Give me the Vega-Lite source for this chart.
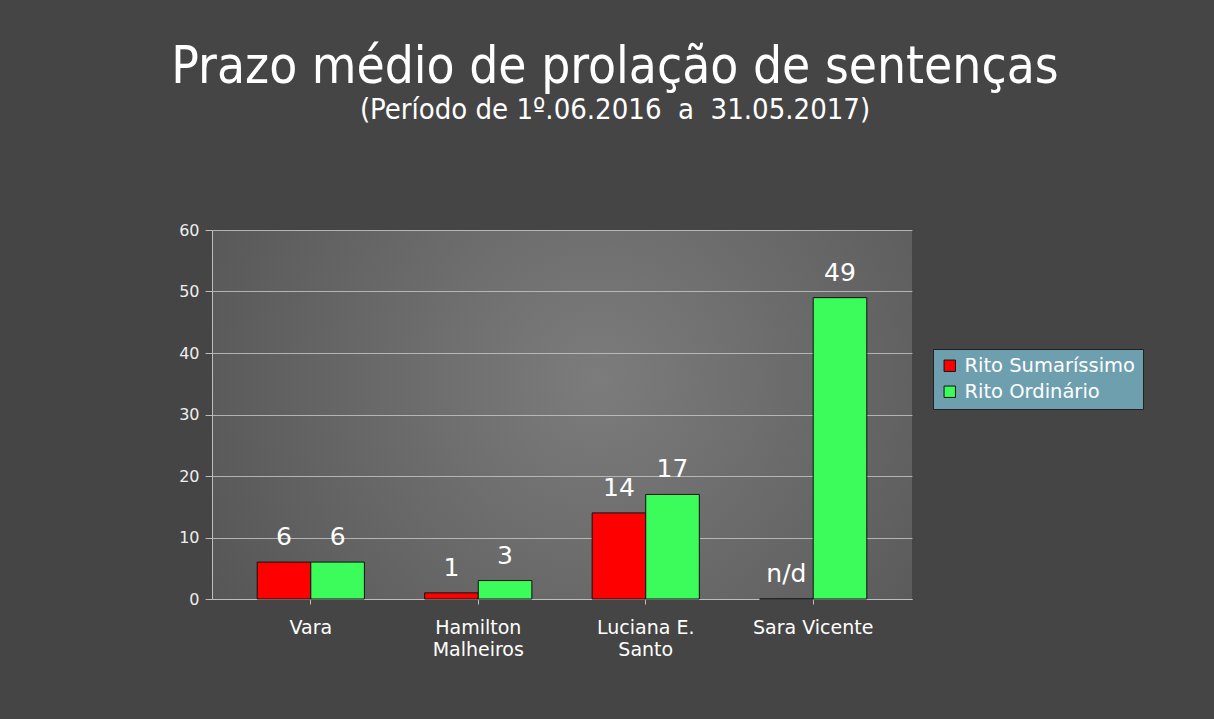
{
  "$schema": "https://vega.github.io/schema/vega-lite/v6.json",
  "autosize": {"type": "none"},
  "width": 700,
  "height": 369,
  "padding": {"left": 212, "top": 230, "right": 302, "bottom": 120},
  "background": "#454545",
  "config": {
    "view": {"stroke": null, "fill": {"gradient": "radial", "x1": 0.55, "y1": 0.45, "r1": 0, "x2": 0.55, "y2": 0.45, "r2": 0.8, "stops": [{"offset": 0, "color": "#7c7c7c"}, {"offset": 1, "color": "#4c4c4c"}]}},
    "font": "DejaVu Sans"
  },
  "title": {
    "text": "Prazo médio de prolação de sentenças",
    "subtitle": "(Período de 1º.06.2016 \u00a0a \u00a031.05.2017)",
    "anchor": "middle",
    "dx": 53,
    "offset": 96,
    "font": "Liberation Sans Narrow, DejaVu Sans Condensed, sans-serif",
    "fontSize": 51,
    "fontWeight": "normal",
    "color": "#ffffff",
    "subtitleFont": "Liberation Sans Narrow, DejaVu Sans Condensed, sans-serif",
    "subtitleFontSize": 29,
    "subtitleColor": "#ffffff",
    "subtitlePadding": 2
  },
  "data": {
    "values": [
      {"juiz": "Vara", "rito": "Rito Sumaríssimo", "valor": 6, "rotulo": "6"},
      {"juiz": "Vara", "rito": "Rito Ordinário", "valor": 6, "rotulo": "6"},
      {"juiz": "Hamilton Malheiros", "rito": "Rito Sumaríssimo", "valor": 1, "rotulo": "1"},
      {"juiz": "Hamilton Malheiros", "rito": "Rito Ordinário", "valor": 3, "rotulo": "3"},
      {"juiz": "Luciana E. Santo", "rito": "Rito Sumaríssimo", "valor": 14, "rotulo": "14"},
      {"juiz": "Luciana E. Santo", "rito": "Rito Ordinário", "valor": 17, "rotulo": "17"},
      {"juiz": "Sara Vicente", "rito": "Rito Sumaríssimo", "valor": 0, "rotulo": "n/d"},
      {"juiz": "Sara Vicente", "rito": "Rito Ordinário", "valor": 49, "rotulo": "49"}
    ]
  },
  "encoding": {
    "x": {
      "field": "juiz", "type": "nominal", "sort": null, "title": null,
      "scale": {"paddingInner": 0.36, "paddingOuter": 0.27},
      "axis": {
        "labelAngle": 0, "labelColor": "#ffffff", "labelFontSize": 19, "labelPadding": 14,
        "domainColor": "#bdbdbd", "tickColor": "#bdbdbd", "labelLineHeight": 22,
        "labelExpr": "datum.value == 'Hamilton Malheiros' ? ['Hamilton', 'Malheiros'] : datum.value == 'Luciana E. Santo' ? ['Luciana E.', 'Santo'] : datum.value"
      }
    },
    "xOffset": {"field": "rito", "type": "nominal", "sort": ["Rito Sumaríssimo", "Rito Ordinário"]},
    "y": {
      "field": "valor", "type": "quantitative", "title": null,
      "scale": {"domain": [0, 60]},
      "axis": {
        "values": [0, 10, 20, 30, 40, 50, 60], "labelColor": "#eeeeee", "labelFontSize": 16,
        "domainColor": "#bdbdbd", "tickColor": "#bdbdbd", "tickSize": 7, "labelPadding": 6,
        "gridColor": "#c8c8c8", "gridOpacity": 0.8
      }
    }
  },
  "layer": [
    {
      "mark": {"type": "bar", "stroke": "#111111", "strokeWidth": 1},
      "encoding": {
        "color": {
          "field": "rito", "type": "nominal", "sort": ["Rito Sumaríssimo", "Rito Ordinário"],
          "scale": {"domain": ["Rito Sumaríssimo", "Rito Ordinário"], "range": ["#ff0000", "#3cfc5c"]},
          "legend": {
            "title": null, "orient": "none", "legendX": 721, "legendY": 119,
            "fillColor": "#6e9fae", "strokeColor": "#222222", "padding": 7,
            "labelColor": "#ffffff", "labelFontSize": 19.5, "labelLimit": 300,
            "symbolType": "square", "symbolSize": 130, "symbolStrokeColor": "#111111", "symbolStrokeWidth": 1,
            "rowPadding": 5, "labelOffset": 5
          }
        }
      }
    },
    {
      "mark": {"type": "text", "baseline": "bottom", "dy": -12, "fontSize": 25, "color": "#ffffff"},
      "encoding": {"text": {"field": "rotulo"}}
    }
  ]
}
